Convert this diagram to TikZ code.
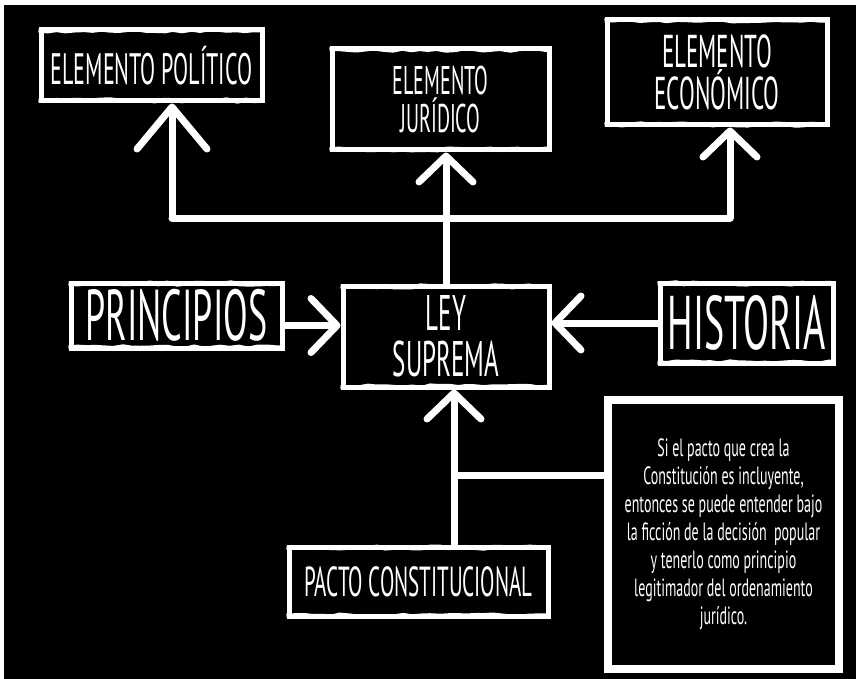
\documentclass[tikz,border=0pt]{standalone}
\usepackage{fontspec}
\usetikzlibrary{arrows.meta,decorations.pathmorphing}
\newfontfamily\chalk[FakeStretch=0.5]{PT Sans}
\newfontfamily\chalknote[FakeStretch=0.56]{PT Sans}
\tikzset{
  board/.style={draw=white, line width=5pt, fill=black, text=white, align=center, inner sep=0pt},
  torn/.style={white, line width=4pt, decorate, decoration={random steps, segment length=9pt, amplitude=1.2pt}},
  link/.style={draw=white, line width=7pt, line cap=round},
  tip/.style={-{Straight Barb[round, length=26pt, width=54pt]}},
  bigtip/.style={-{Straight Barb[round, length=42pt, width=70pt]}},
}

\begin{document}
\begin{tikzpicture}[x=1pt, y=-1pt]
  \useasboundingbox (0,0) rectangle (856,679);
  \fill[white] (0,0) rectangle (856,679);
  \fill[black] (4,5) rectangle (856,679);

  % top row
  \node[board, minimum width=221pt, minimum height=71pt, font=\chalk\fontsize{44}{44}\selectfont] (polit) at (151.5,65.5) {ELEMENTO POLÍTICO};
  \node[board, minimum width=217pt, minimum height=101pt, font=\chalk\fontsize{40}{38}\selectfont] (jurid) at (440.5,99.5) {ELEMENTO\\JURÍDICO};
  \node[board, minimum width=220pt, minimum height=105pt, font=\chalk\fontsize{46}{42}\selectfont] (econ) at (717,72.5) {ELEMENTO\\ECONÓMICO};

  % middle row
  \node[board, minimum width=211pt, minimum height=65pt, font=\chalk\fontsize{72}{72}\selectfont] (princ) at (176.5,315.5) {PRINCIPIOS};
  \node[board, minimum width=206pt, minimum height=101pt, font=\chalk\fontsize{50}{46}\selectfont] (ley) at (446,336.5) {LEY\\SUPREMA};
  \node[board, minimum width=173pt, minimum height=80pt, font=\chalk\fontsize{76}{76}\selectfont] (hist) at (746.5,323) {HISTORIA};

  % bottom row
  \node[board, minimum width=259pt, minimum height=69pt, font=\chalk\fontsize{42}{42}\selectfont] (pacto) at (418.5,581.5) {PACTO CONSTITUCIONAL};
  \node[board, line width=8pt, minimum width=231pt, minimum height=269pt, font=\chalknote\fontsize{25}{28}\selectfont] (nota) at (723.5,534.5)
    {Si el pacto que crea la\\Constitución es incluyente,\\entonces se puede entender bajo\\la ficción de la decisión\ \ popular\\y tenerlo como principio\\legitimador del ordenamiento\\jurídico.};

  % rough top and bottom edges
  \foreach \b in {polit,jurid,econ,princ,ley,hist,pacto} {
    \draw[torn] ([yshift=-3pt]\b.north west) -- ([yshift=-3pt]\b.north east);
    \draw[torn] ([yshift=3pt]\b.south west) -- ([yshift=3pt]\b.south east);
  }

  % connectors
  \coordinate (busL) at (172,218);
  \coordinate (busR) at (730,218);
  \draw[link] (busL) -- (busR);
  \draw[link, bigtip] (busL) -- (busL |- polit.south);
  \draw[link, tip] (busR) -- (busR |- econ.south);
  \draw[link, tip] (ley.north) -- (ley.north |- jurid.south);

  \draw[link, tip] ([yshift=-10pt]princ.east) -- ([yshift=-10pt]princ.east -| ley.west);
  \draw[link, tip] (hist.west) -- (hist.west -| ley.east);

  \coordinate (up) at ([xshift=8pt]ley.south);
  \draw[link, tip] (pacto.north -| up) -- (up);
  \coordinate (tap) at (458,475);
  \draw[link] (tap) -- (tap -| nota.west);
\end{tikzpicture}
\end{document}
